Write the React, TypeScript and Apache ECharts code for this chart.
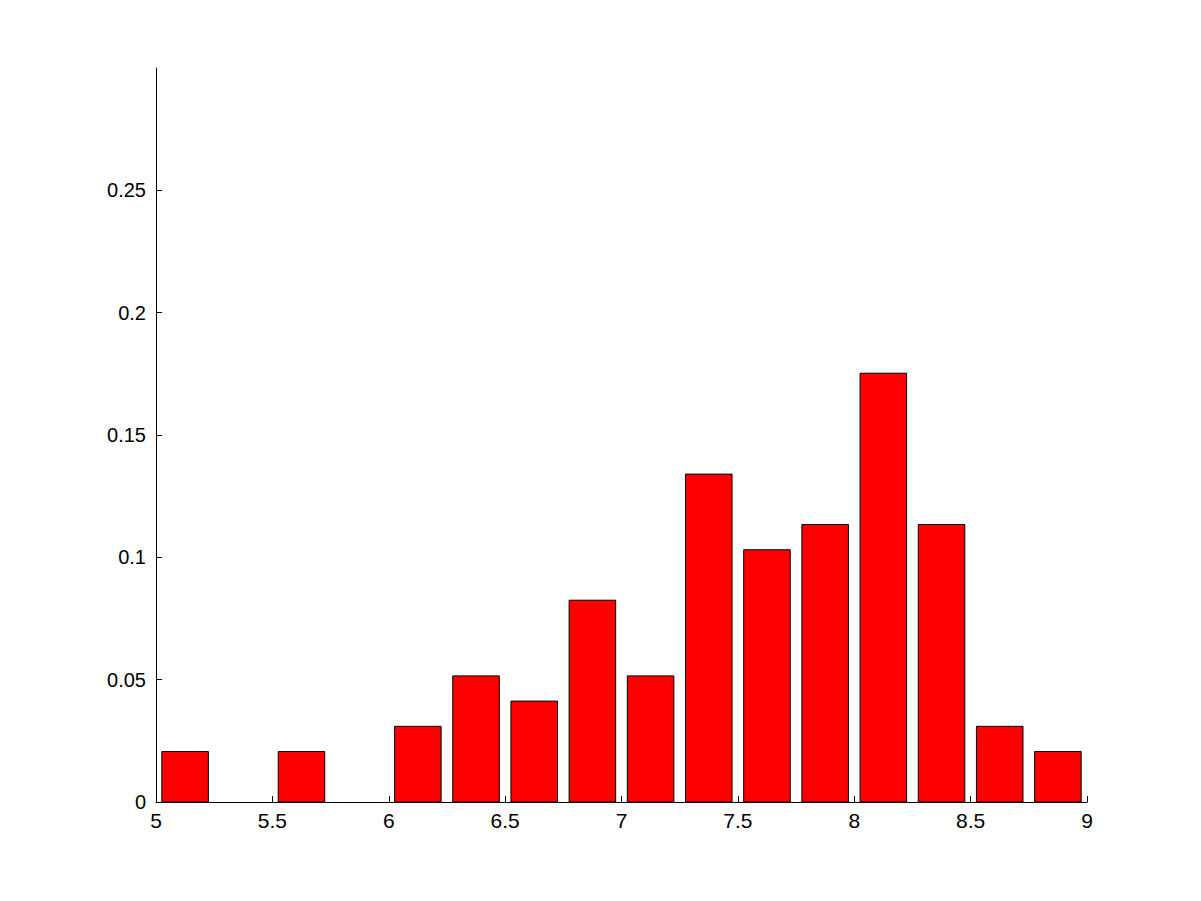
import React, { useEffect, useRef } from "react";
import * as echarts from "echarts";

const binStarts = [5, 5.25, 5.5, 5.75, 6, 6.25, 6.5, 6.75, 7, 7.25, 7.5, 7.75, 8, 8.25, 8.5, 8.75];
const binWidth = 0.25;
const counts = [2, 0, 2, 0, 3, 5, 4, 8, 5, 13, 10, 11, 17, 11, 3, 2];
const total = 97;
const frequencies = counts.map((c) => c / total);
const xTicks = [5, 5.5, 6, 6.5, 7, 7.5, 8, 8.5, 9];
const yTicks = [0, 0.05, 0.1, 0.15, 0.2, 0.25];

const font = "Arial";

export default function App() {
  const ref = useRef<HTMLDivElement>(null);
  useEffect(() => {
    if (!ref.current) return;
    const chart = echarts.init(ref.current, undefined, { renderer: "svg" });
    const data = binStarts.map((s, i) => [s, s + binWidth, frequencies[i]]);
    chart.setOption({
      animation: false,
      backgroundColor: "#ffffff",
      grid: { left: 156, right: 114, top: 68, bottom: 99, containLabel: false },
      xAxis: {
        type: "value",
        min: 5,
        max: 9,
        interval: 0.5,
        axisLine: { show: true, lineStyle: { color: "#000", width: 1 } },
        axisTick: { show: true, inside: true, length: 6, lineStyle: { color: "#000" } },
        axisLabel: {
          color: "#000",
          fontSize: 21,
          fontFamily: font,
          margin: 8,
          formatter: (v: number) => (xTicks.includes(v) ? String(v) : ""),
        },
        splitLine: { show: false },
      },
      yAxis: {
        type: "value",
        min: 0,
        max: 0.3,
        axisLine: { show: true, lineStyle: { color: "#000", width: 1 } },
        axisTick: { show: true, inside: true, length: 6, lineStyle: { color: "#000" }, customValues: yTicks },
        axisLabel: {
          color: "#000",
          fontSize: 20,
          fontFamily: font,
          margin: 10,
          customValues: yTicks,
          formatter: (v: number) => String(Math.round(v * 100) / 100),
        },
        splitLine: { show: false },
      },
      series: [
        {
          type: "custom",
          data,
          encode: { x: [0, 1], y: 2 },
          renderItem: (params: any, api: any) => {
            const x0 = api.value(0);
            const x1 = api.value(1);
            const h = api.value(2);
            if (!h) return null;
            const pad = (x1 - x0) * 0.1;
            const p0 = api.coord([x0 + pad, h]);
            const p1 = api.coord([x1 - pad, 0]);
            return {
              type: "rect",
              shape: { x: p0[0], y: p0[1], width: p1[0] - p0[0], height: p1[1] - p0[1] },
              style: { fill: "#ff0000", stroke: "#000000", lineWidth: 1 },
            };
          },
        },
      ],
    });
    return () => chart.dispose();
  }, []);
  return <div ref={ref} style={{ width: 1201, height: 901, margin: -8 }} />;
}
